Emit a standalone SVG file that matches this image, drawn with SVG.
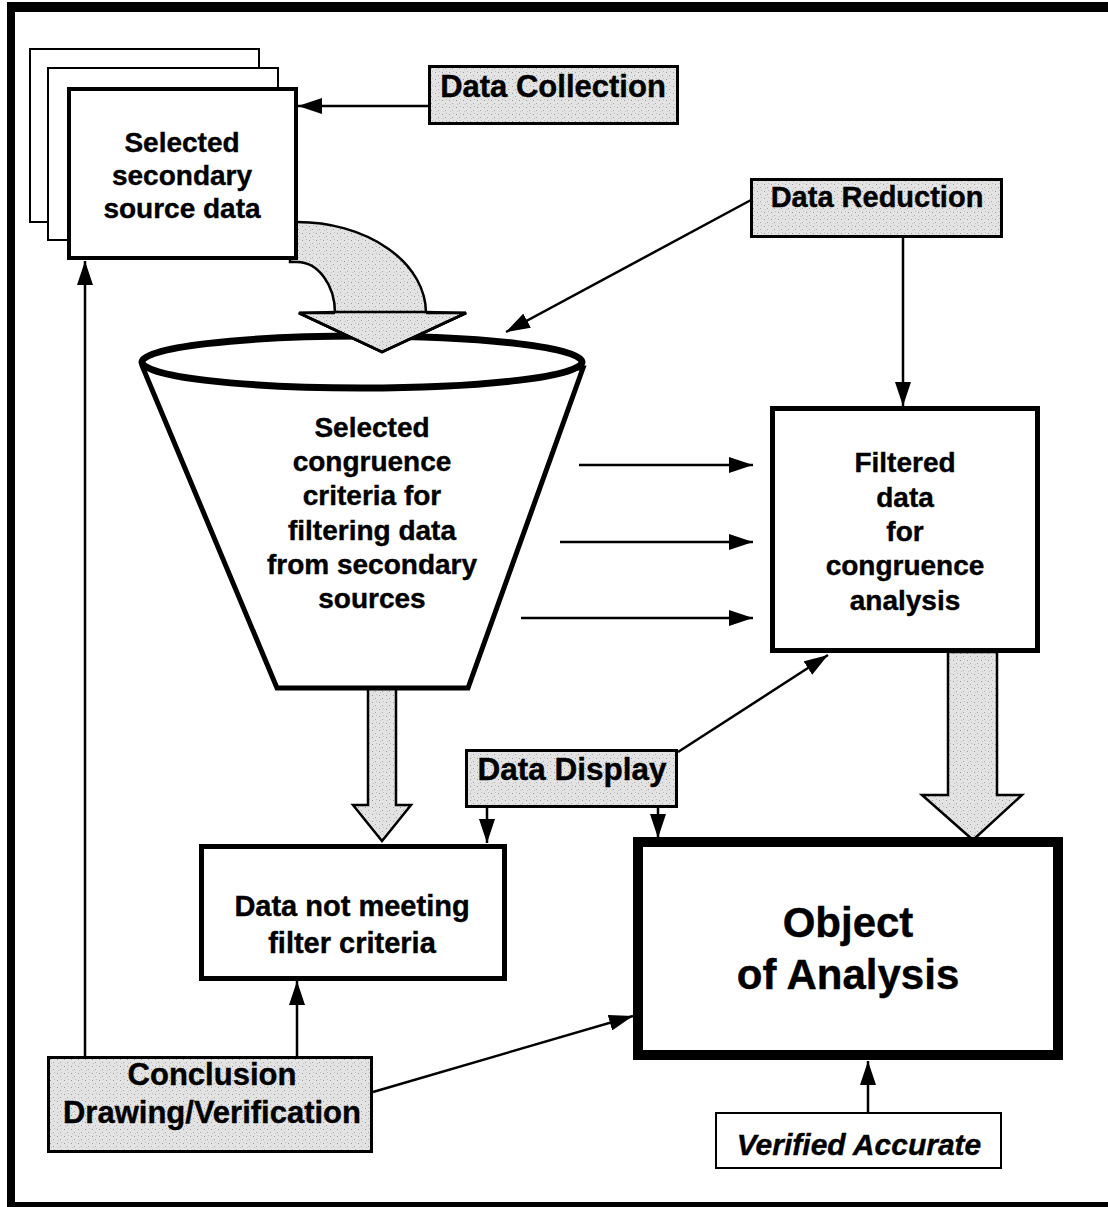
<svg xmlns="http://www.w3.org/2000/svg" width="1108" height="1207" viewBox="0 0 1108 1207">
<defs>
<pattern id="stip" width="7" height="7" patternUnits="userSpaceOnUse">
<rect width="7" height="7" fill="#e3e3e3"/>
<rect x="1" y="2" width="1" height="1" fill="#9a9a9a"/>
<rect x="4" y="5" width="1" height="1" fill="#a8a8a8"/>
<rect x="5" y="1" width="1" height="1" fill="#bdbdbd"/>
<rect x="2" y="6" width="1" height="1" fill="#c4c4c4"/>
</pattern>
<marker id="ah" markerWidth="24" markerHeight="16" refX="24" refY="8" orient="auto" markerUnits="userSpaceOnUse">
<path d="M0,0 L24,8 L0,16 z" fill="#000"/>
</marker>
</defs>
<style>
text{font-family:"Liberation Sans",Arial,Helvetica,sans-serif;font-weight:bold;fill:#000;stroke:#000;stroke-width:0.4;text-anchor:middle}
.t28{font-size:28px}
.lab{font-size:30px}
.big{font-size:42px}
.box{fill:#fff;stroke:#000}
.gbox{fill:url(#stip);stroke:#000;stroke-width:3}
.con{stroke:#000;stroke-width:2.5;fill:none;marker-end:url(#ah)}
.fat{fill:url(#stip);stroke:#000;stroke-width:2.5;stroke-linejoin:miter}
</style>

<g id="frame">
<rect x="7" y="2" width="1101" height="10" fill="#000"/>
<rect x="7" y="2" width="8" height="1205" fill="#000"/>
<rect x="7" y="1202" width="1101" height="5" fill="#000"/>
</g>

<g id="fat-arrows">
<path class="fat" d="M290,222 L297,222 A129 91 0 0 1 426,313 L466,313 L382,352 L299,313 L335,313 A38 51 0 0 0 297,262 L290,262 Z"/>
<path class="fat" d="M368,688 L396,688 L396,805 L411,805 L382,841 L353,805 L368,805 Z"/>
<path class="fat" d="M948,652 L997,652 L997,795 L1022,795 L973,840 L922,795 L948,795 Z"/>
</g>

<g id="sheets">
<rect x="30" y="49" width="229" height="173" class="box" stroke-width="2"/>
<rect x="48" y="68" width="230" height="172" class="box" stroke-width="2"/>
<g id="n-source">
<rect x="69" y="89" width="227" height="169" class="box" stroke-width="4"/>
<text class="t28" x="182" y="152">Selected</text>
<text class="t28" x="182" y="185">secondary</text>
<text class="t28" x="182" y="218">source data</text>
</g>
</g>

<g id="n-funnel">
<polygon points="143,368 583,368 468,688 277,688" fill="#fff" stroke="#000" stroke-width="5" stroke-linejoin="miter"/>
<ellipse cx="362" cy="362" rx="220" ry="26" fill="#fff" stroke="#000" stroke-width="7"/>
<text class="t28" x="372" y="437">Selected</text>
<text class="t28" x="372" y="471">congruence</text>
<text class="t28" x="372" y="505">criteria for</text>
<text class="t28" x="372" y="540">filtering data</text>
<text class="t28" x="372" y="574">from secondary</text>
<text class="t28" x="372" y="608">sources</text>
</g>

<g id="curved-arrow-head">
<path class="fat" d="M335,312 L426,312 L466,313 L382,352 L299,313 Z" stroke="none"/>
<path d="M426,313 L466,313 L382,352 L299,313 L335,313" fill="none" stroke="#000" stroke-width="2.5"/>
</g>

<g id="n-collection">
<rect x="429.5" y="66.5" width="248" height="57" class="gbox"/>
<text class="lab" x="553" y="97" style="font-size:31px">Data Collection</text>
</g>

<g id="n-reduction">
<rect x="751.5" y="179.5" width="250" height="57" class="gbox"/>
<text class="lab" x="877" y="207" style="font-size:29px">Data Reduction</text>
</g>

<g id="n-filtered">
<rect x="772.5" y="408.5" width="265" height="242" class="box" stroke-width="5"/>
<text class="t28" x="905" y="472">Filtered</text>
<text class="t28" x="905" y="507">data</text>
<text class="t28" x="905" y="541">for</text>
<text class="t28" x="905" y="575">congruence</text>
<text class="t28" x="905" y="610">analysis</text>
</g>

<g id="n-display">
<rect x="466.5" y="750.5" width="210" height="56" class="gbox"/>
<text class="lab" x="572" y="780" style="font-size:31.5px">Data Display</text>
</g>

<g id="n-notmeeting">
<rect x="201.5" y="846.5" width="303" height="132" class="box" stroke-width="5"/>
<text class="t28" x="352" y="916" style="font-size:29px">Data not meeting</text>
<text class="t28" x="352" y="953" style="font-size:29px">filter criteria</text>
</g>

<g id="n-object">
<rect x="638" y="842" width="420" height="213" class="box" stroke-width="10"/>
<text class="big" x="848" y="937">Object</text>
<text class="big" x="848" y="989">of Analysis</text>
</g>

<g id="n-conclusion">
<rect x="48.5" y="1057.5" width="323" height="94" class="gbox"/>
<text class="lab" x="212" y="1085" style="font-size:31px">Conclusion</text>
<text class="lab" x="212" y="1123" style="font-size:31px">Drawing/Verification</text>
</g>

<g id="n-verified">
<rect x="716" y="1113" width="285" height="55" fill="#fff" stroke="#000" stroke-width="2"/>
<text x="859" y="1155" style="font-size:30px;font-style:italic">Verified Accurate</text>
</g>

<g id="connectors">
<line class="con" x1="428" y1="106" x2="298" y2="106"/>
<line class="con" x1="751" y1="200" x2="506" y2="332"/>
<line class="con" x1="903" y1="238" x2="903" y2="406"/>
<line class="con" x1="579" y1="465" x2="753" y2="465"/>
<line class="con" x1="560" y1="542" x2="753" y2="542"/>
<line class="con" x1="521" y1="618" x2="753" y2="618"/>
<line class="con" x1="678" y1="752" x2="828" y2="655"/>
<line class="con" x1="487" y1="807" x2="487" y2="843"/>
<line class="con" x1="658" y1="807" x2="658" y2="838"/>
<line class="con" x1="85" y1="1056" x2="85" y2="261"/>
<line class="con" x1="297" y1="1056" x2="297" y2="981"/>
<line class="con" x1="373" y1="1092" x2="633" y2="1016"/>
<line class="con" x1="868" y1="1112" x2="868" y2="1061"/>
</g>
</svg>
